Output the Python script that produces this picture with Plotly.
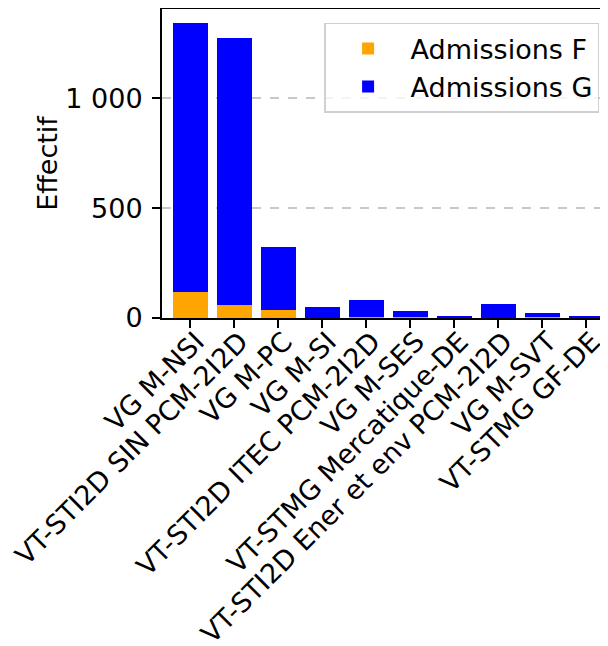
import plotly.graph_objects as go

categories = [
    "VG M-NSI",
    "VT-STI2D SIN PCM-2I2D",
    "VG M-PC",
    "VG M-SI",
    "VT-STI2D ITEC PCM-2I2D",
    "VG M-SES",
    "VT-STMG Mercatique-DE",
    "VT-STI2D Ener et env PCM-2I2D",
    "VG M-SVT",
    "VT-STMG GF-DE",
]
admissions_f = [117, 61, 38, 1, 3, 6, 1, 1, 3, 1]
admissions_g = [1225, 1212, 286, 48, 77, 28, 7, 61, 18, 10]

FONT = "DejaVu Sans"
FS = 27

fig = go.Figure()
fig.add_trace(go.Bar(x=categories, y=admissions_f, name="Admissions F",
                     marker=dict(color="#FFA500", line=dict(width=0))))
fig.add_trace(go.Bar(x=categories, y=admissions_g, name="Admissions G",
                     marker=dict(color="#0000FF", line=dict(width=0))))

fig.update_layout(
    barmode="stack",
    bargap=0.2,
    width=600,
    height=638,
    margin=dict(l=154, r=0, t=1, b=328, autoexpand=False),
    paper_bgcolor="white",
    plot_bgcolor="white",
    separators=", ",
    font=dict(family=FONT, size=FS, color="black"),
    showlegend=True,
    legend=dict(
        x=0.98, xanchor="right", y=0.955, yanchor="top",
        traceorder="normal",
        bgcolor="rgba(255,255,255,0.8)",
        bordercolor="#d0d0d0", borderwidth=1.5,
        font=dict(family=FONT, size=FS, color="black"),
        itemwidth=75,
        tracegroupgap=0,
    ),
    xaxis=dict(
        range=[-0.643, 9.493],
        tickangle=-45,
        showline=True, linecolor="black", linewidth=2,
        mirror=True,
        ticks="outside", ticklen=8, tickwidth=2, tickcolor="black",
        showgrid=False, zeroline=False,
        automargin=False,
        ticklabelstandoff=-13,
        ticklabelshift=6,
        tickfont=dict(family=FONT, size=FS, color="black"),
    ),
    yaxis=dict(
        range=[0, 1407],
        tickvals=[0, 500, 1000],
        tickformat=",d",
        showline=True, linecolor="black", linewidth=2,
        ticks="outside", ticklen=8, tickwidth=2, tickcolor="black",
        showgrid=True, gridcolor="#c8c8c8", griddash="dash", gridwidth=1.5,
        zeroline=False,
        automargin=False,
        ticklabelstandoff=4,
        title=dict(text="Effectif", standoff=0,
                   font=dict(family=FONT, size=FS, color="black")),
        tickfont=dict(family=FONT, size=FS, color="black"),
    ),
)

fig.write_html("out.html")
